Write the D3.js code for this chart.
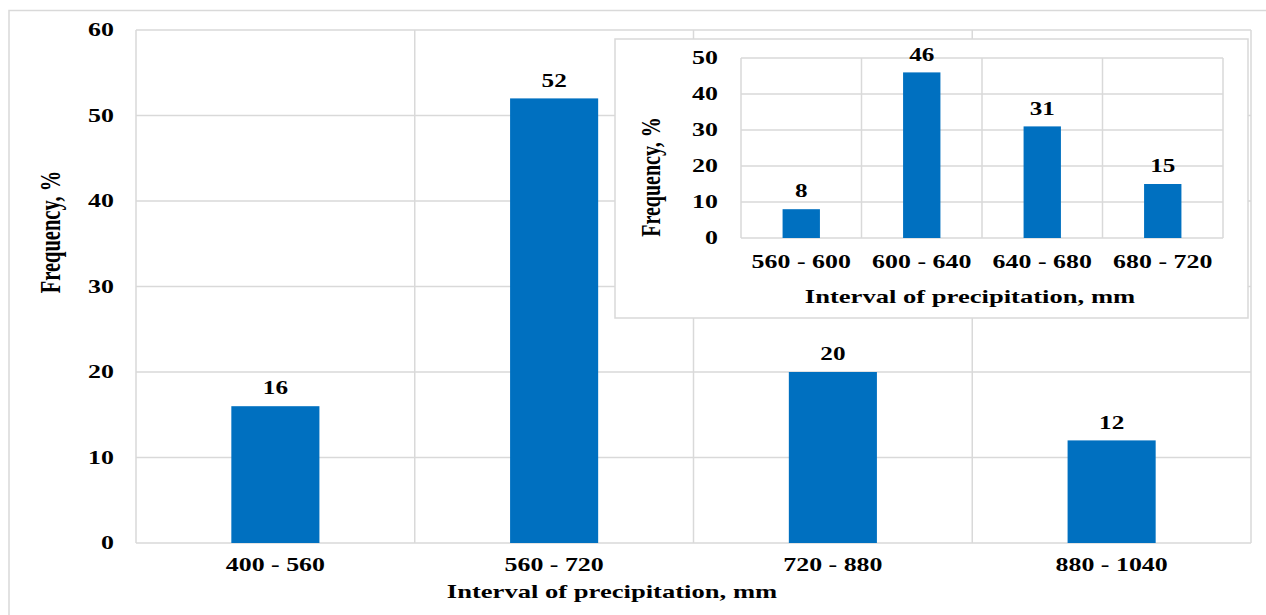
<!DOCTYPE html>
<html>
<head>
<meta charset="utf-8">
<script src="https://cdn.jsdelivr.net/npm/d3@7"></script>
<style>
html,body{margin:0;padding:0;background:#fff;}
svg{display:block;}
text{font-family:"Liberation Serif","Times New Roman",serif;font-weight:bold;fill:#000;}
</style>
</head>
<body>
<svg id="chart" width="1266" height="615"></svg>
<script>
// ---- data ----
const mainCategories = ["400 - 560", "560 - 720", "720 - 880", "880 - 1040"];
const mainValues = [16, 52, 20, 12];
const mainTicks = [0, 10, 20, 30, 40, 50, 60];

const insetCategories = ["560 - 600", "600 - 640", "640 - 680", "680 - 720"];
const insetValues = [8, 46, 31, 15];
const insetTicks = [0, 10, 20, 30, 40, 50];

const xTitle = "Interval of precipitation, mm";
const yTitle = "Frequency, %";

// ---- drawing ----
const svg = d3.select("#chart");
const SX = 1.4;          // horizontal stretch of the reference picture
const GRID = "#d9d9d9";
const BAR = "#0070c0";

svg.append("rect").attr("x", 9).attr("y", 10.5).attr("width", 1300).attr("height", 700)
  .attr("fill", "#fff").attr("stroke", GRID).attr("stroke-width", 1.5);

function txt(g, x, y, s, size, anchor, rot) {
  return g.append("text")
    .attr("transform", `translate(${x},${y}) scale(${SX},1)` + (rot ? ` rotate(${rot})` : ""))
    .attr("text-anchor", anchor || "middle")
    .attr("dominant-baseline", "central")
    .style("font-size", size + "px")
    .text(s);
}

function drawChart(g, cfg) {
  const x = d3.scaleBand().domain(cfg.categories).range([cfg.left, cfg.right])
    .paddingInner(cfg.pad).paddingOuter(cfg.pad / 2);
  const xb = d3.scaleBand().domain(cfg.categories).range([cfg.left, cfg.right]);
  const y = d3.scaleLinear().domain([0, d3.max(cfg.ticks)]).range([cfg.bottom, cfg.top]);

  // horizontal gridlines
  g.append("g").selectAll("line").data(cfg.ticks).join("line")
    .attr("x1", cfg.left).attr("x2", cfg.right)
    .attr("y1", d => y(d)).attr("y2", d => y(d))
    .attr("stroke", GRID).attr("stroke-width", 1.5);
  // vertical gridlines at category boundaries
  const bounds = cfg.categories.map(c => xb(c)).concat([cfg.right]);
  g.append("g").selectAll("line").data(bounds).join("line")
    .attr("x1", d => d).attr("x2", d => d)
    .attr("y1", cfg.top).attr("y2", cfg.bottom)
    .attr("stroke", GRID).attr("stroke-width", 1.5);

  // bars
  g.append("g").selectAll("rect").data(cfg.values).join("rect")
    .attr("x", (d, i) => x(cfg.categories[i]))
    .attr("width", x.bandwidth())
    .attr("y", d => y(d))
    .attr("height", d => cfg.bottom - y(d))
    .attr("fill", BAR);

  // value labels
  cfg.values.forEach((v, i) => {
    txt(g, xb(cfg.categories[i]) + xb.bandwidth() / 2, y(v) - cfg.labelGap, String(v), cfg.labelSize);
  });

  // y tick labels
  cfg.ticks.forEach(t => txt(g, cfg.tickRight, y(t), String(t), cfg.tickSize, "end"));

  // x tick labels
  cfg.categories.forEach(c => txt(g, xb(c) + xb.bandwidth() / 2, cfg.xTickY, c, cfg.tickSize));

  // titles
  txt(g, cfg.xTitleX, cfg.xTitleY, xTitle, cfg.titleSize);
  txt(g, cfg.yTitleX, cfg.yTitleY, yTitle, cfg.yTitleSize, "middle", -90);
}

const mainG = svg.append("g");
drawChart(mainG, {
  categories: mainCategories, values: mainValues, ticks: mainTicks,
  left: 136, right: 1251, top: 30, bottom: 543, pad: 0.684,
  labelGap: 18, labelSize: 18, tickSize: 18.5, titleSize: 19, yTitleSize: 20.5,
  tickRight: 114, xTickY: 565, xTitleX: 612, xTitleY: 591,
  yTitleX: 50, yTitleY: 232
});

// inset
const insetG = svg.append("g");
insetG.append("rect").attr("x", 615).attr("y", 39).attr("width", 633).attr("height", 279)
  .attr("fill", "#fff").attr("stroke", GRID).attr("stroke-width", 1.5);
drawChart(insetG, {
  categories: insetCategories, values: insetValues, ticks: insetTicks,
  left: 741, right: 1223, top: 58, bottom: 238, pad: 0.69,
  labelGap: 18, labelSize: 18, tickSize: 18.5, titleSize: 19, yTitleSize: 20,
  tickRight: 718, xTickY: 262, xTitleX: 970, xTitleY: 296,
  yTitleX: 650, yTitleY: 177
});
</script>
</body>
</html>
